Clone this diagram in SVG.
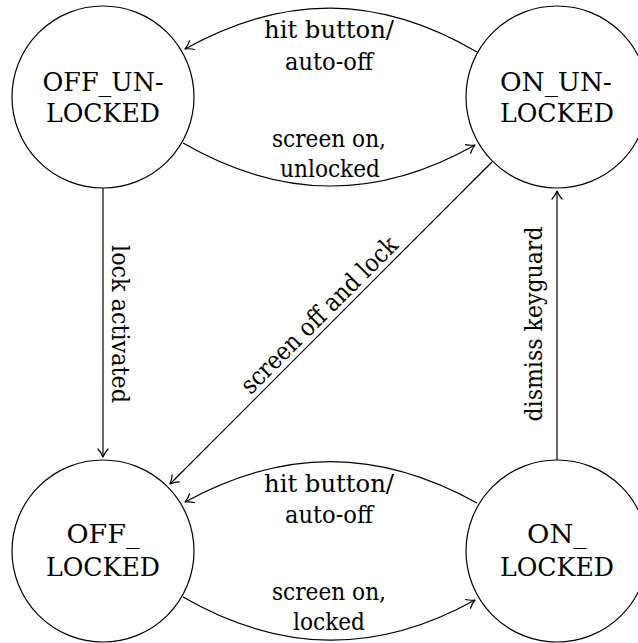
<svg xmlns="http://www.w3.org/2000/svg" width="638" height="643" viewBox="0 0 638 643">
  <style>
    .node { fill: #ffffff; stroke: #000000; stroke-width: 1.2; }
    .edge { fill: none; stroke: #000000; stroke-width: 1.2; marker-end: url(#arrow); }
    .lbl { font-family: 'DejaVu Serif', serif; font-size: 24px; fill: #000000; text-anchor: middle; }
    .nl { font-family: 'DejaVu Serif', serif; font-size: 26px; fill: #000000; text-anchor: middle; }
  </style>
  <defs>
    <marker id="arrow" markerUnits="userSpaceOnUse" viewBox="-10 -7 12 14" refX="0" refY="0" markerWidth="12" markerHeight="14" orient="auto" overflow="visible">
      <path d="M-8,-5 C-5,-2.2 -1.5,-0.6 0,0 C-1.5,0.6 -5,2.2 -8,5" fill="none" stroke="#000000" stroke-width="1.2" stroke-linecap="round" stroke-linejoin="round"/>
    </marker>
  </defs>
  <rect x="0" y="0" width="638" height="643" fill="#ffffff"/>

  <g id="connectors">
    <path class="edge" d="M477,52 C378,-6 284,-6 185,49"/>
    <path class="edge" d="M183,143 C282,200 378,200 475,145"/>
    <path class="edge" d="M477,503 C378,448 284,448 185,502"/>
    <path class="edge" d="M183,597 C282,654 378,654 475,600"/>
    <path class="edge" d="M103,188 L103,457"/>
    <path class="edge" d="M557,460 L557,191"/>
    <path class="edge" d="M492,162 L170,484"/>

    <g class="lbl">
      <text x="329" y="38" textLength="130" lengthAdjust="spacingAndGlyphs">hit button/</text>
      <text x="329" y="70" textLength="88" lengthAdjust="spacingAndGlyphs">auto-off</text>
      <text x="329" y="147" textLength="114" lengthAdjust="spacingAndGlyphs">screen on,</text>
      <text x="330" y="177" textLength="100" lengthAdjust="spacingAndGlyphs">unlocked</text>

      <text x="329" y="492" textLength="130" lengthAdjust="spacingAndGlyphs">hit button/</text>
      <text x="329" y="523" textLength="88" lengthAdjust="spacingAndGlyphs">auto-off</text>
      <text x="329" y="600" textLength="114" lengthAdjust="spacingAndGlyphs">screen on,</text>
      <text x="329" y="630" textLength="72" lengthAdjust="spacingAndGlyphs">locked</text>

      <text transform="translate(112,324) rotate(90)" textLength="158" lengthAdjust="spacingAndGlyphs">lock activated</text>
      <text transform="translate(542,324) rotate(-90)" textLength="195" lengthAdjust="spacingAndGlyphs">dismiss keyguard</text>
      <text transform="translate(325,321) rotate(-45)" font-size="25" textLength="210" lengthAdjust="spacingAndGlyphs">screen off and lock</text>
    </g>
  </g>

  <g id="OFF_UNLOCKED" class="nl">
    <circle class="node" cx="103" cy="97" r="91"/>
    <text x="103" y="91" textLength="121" lengthAdjust="spacingAndGlyphs">OFF_UN-</text>
    <text x="103" y="122" textLength="114" lengthAdjust="spacingAndGlyphs">LOCKED</text>
  </g>
  <g id="ON_UNLOCKED" class="nl">
    <circle class="node" cx="557" cy="97" r="91"/>
    <text x="556" y="91" textLength="112" lengthAdjust="spacingAndGlyphs">ON_UN-</text>
    <text x="557" y="122" textLength="114" lengthAdjust="spacingAndGlyphs">LOCKED</text>
  </g>
  <g id="OFF_LOCKED" class="nl">
    <circle class="node" cx="103" cy="551" r="91"/>
    <text x="103" y="543" textLength="73" lengthAdjust="spacingAndGlyphs">OFF_</text>
    <text x="103" y="576" textLength="114" lengthAdjust="spacingAndGlyphs">LOCKED</text>
  </g>
  <g id="ON_LOCKED" class="nl">
    <circle class="node" cx="557" cy="551" r="91"/>
    <text x="557" y="543" textLength="60" lengthAdjust="spacingAndGlyphs">ON_</text>
    <text x="557" y="576" textLength="114" lengthAdjust="spacingAndGlyphs">LOCKED</text>
  </g>
</svg>
